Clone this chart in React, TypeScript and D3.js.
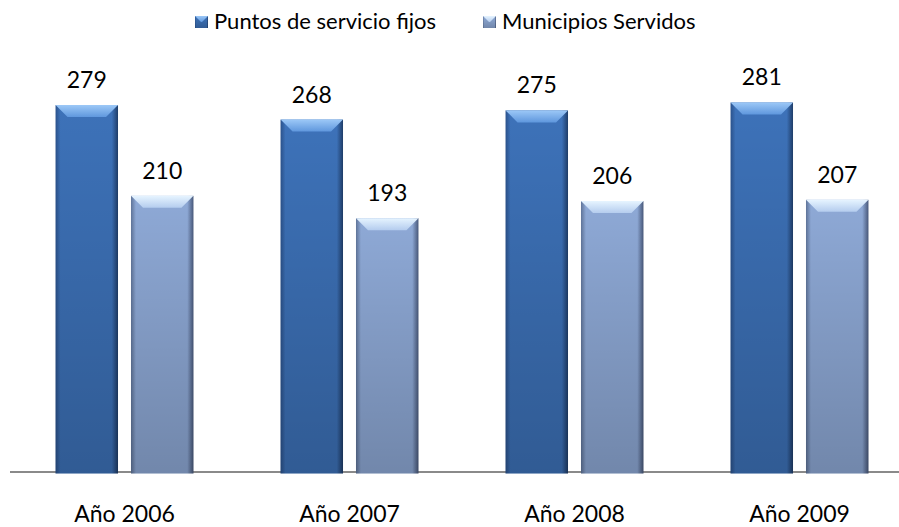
import * as d3 from "d3";
import { useRef, useEffect } from "react";

const years = ["Año 2006", "Año 2007", "Año 2008", "Año 2009"];
const seriesNames = ["Puntos de servicio fijos", "Municipios Servidos"];
const puntos = [279, 268, 275, 281];
const municipios = [210, 193, 206, 207];

const palette = [
  { edgeL: "#2b528c", mid: "#3d72b9", edgeR: "#1f3d69", bevTop: "#9cc8f7", bevBot: "#5f97dd" },
  { edgeL: "#5f7499", mid: "#8ea9d6", edgeR: "#48587a", bevTop: "#e6f4ff", bevBot: "#b4ccee" },
];

const App = () => {
  const ref = useRef(null);

  useEffect(() => {
    const W = 899;
    const H = 527;
    const baseY = 472;

    d3.select(ref.current).select("svg").remove();
    const svg = d3.select(ref.current)
      .append("svg")
      .attr("width", W)
      .attr("height", H)
      .style("display", "block")
      .style("font-family", "Lato, 'Open Sans', sans-serif");

    const defs = svg.append("defs");
    palette.forEach((p, i) => {
      const h = defs.append("linearGradient").attr("id", `hg${i}`).attr("x1", 0).attr("x2", 1).attr("y1", 0).attr("y2", 0);
      h.append("stop").attr("offset", 0).attr("stop-color", p.edgeL);
      h.append("stop").attr("offset", 0.08).attr("stop-color", p.mid);
      h.append("stop").attr("offset", 0.45).attr("stop-color", p.mid);
      h.append("stop").attr("offset", 0.9).attr("stop-color", p.mid);
      h.append("stop").attr("offset", 1).attr("stop-color", p.edgeR);
      const b = defs.append("linearGradient").attr("id", `bg${i}`).attr("x1", 0).attr("x2", 0).attr("y1", 0).attr("y2", 1);
      b.append("stop").attr("offset", 0).attr("stop-color", p.bevTop);
      b.append("stop").attr("offset", 1).attr("stop-color", p.bevBot);
    });
    const v = defs.append("linearGradient").attr("id", "shade").attr("x1", 0).attr("x2", 0).attr("y1", 0).attr("y2", 1);
    v.append("stop").attr("offset", 0).attr("stop-color", "#000").attr("stop-opacity", 0);
    v.append("stop").attr("offset", 1).attr("stop-color", "#000").attr("stop-opacity", 0.2);

    const x0 = d3.scaleBand().domain(years).range([12, 912]).paddingInner(0.387).paddingOuter(0.1935);
    const x1 = d3.scaleBand().domain(seriesNames).range([0, x0.bandwidth()]).paddingInner(0.172);
    const y = d3.scaleLinear().domain([0, 300]).range([baseY, 77.5]);

    // baseline
    svg.append("line")
      .attr("x1", 10).attr("x2", W)
      .attr("y1", baseY).attr("y2", baseY)
      .attr("stroke", "#8a8a8a").attr("stroke-width", 2);

    const drawBar = (g, x, top, w, bottom, i) => {
      const bev = Math.min(12, (bottom - top) / 2);
      g.append("rect").attr("x", x).attr("y", top).attr("width", w).attr("height", bottom - top).attr("fill", `url(#hg${i})`);
      g.append("rect").attr("x", x).attr("y", top).attr("width", w).attr("height", bottom - top).attr("fill", "url(#shade)");
      g.append("path")
        .attr("d", `M${x},${top}L${x + w},${top}L${x + w - bev},${top + bev}L${x + bev},${top + bev}Z`)
        .attr("fill", `url(#bg${i})`);
    };

    const values = [puntos, municipios];
    years.forEach((yr, j) => {
      const g = svg.append("g").attr("transform", `translate(${x0(yr)},0)`);
      seriesNames.forEach((s, i) => {
        const val = values[i][j];
        const bx = x1(s);
        const bw = x1.bandwidth();
        drawBar(g, bx, y(val), bw, baseY + 1.5, i);
        g.append("text")
          .attr("x", bx + bw / 2)
          .attr("y", y(val) - 17)
          .attr("text-anchor", "middle")
          .attr("font-size", 23)
          .attr("fill", "#000")
          .text(val);
      });
      g.append("text")
        .attr("x", x0.bandwidth() / 2)
        .attr("y", 522)
        .attr("text-anchor", "middle")
        .attr("font-size", 23)
        .attr("fill", "#000")
        .text(yr);
    });

    // legend
    const legendX = [195, 483];
    seriesNames.forEach((s, i) => {
      const lg = svg.append("g").attr("transform", `translate(${legendX[i]},16)`);
      drawBar(lg, 0, 0, 13, 12, i);
      lg.append("text")
        .attr("x", 19)
        .attr("y", 13)
        .attr("font-size", 22)
        .attr("fill", "#000")
        .text(s);
    });

    return () => {
      d3.select(ref.current).select("svg").remove();
    };
  }, []);

  return <div ref={ref} style={{ position: "absolute", left: 0, top: 0, width: 899, height: 527 }}></div>;
};

export default App;
